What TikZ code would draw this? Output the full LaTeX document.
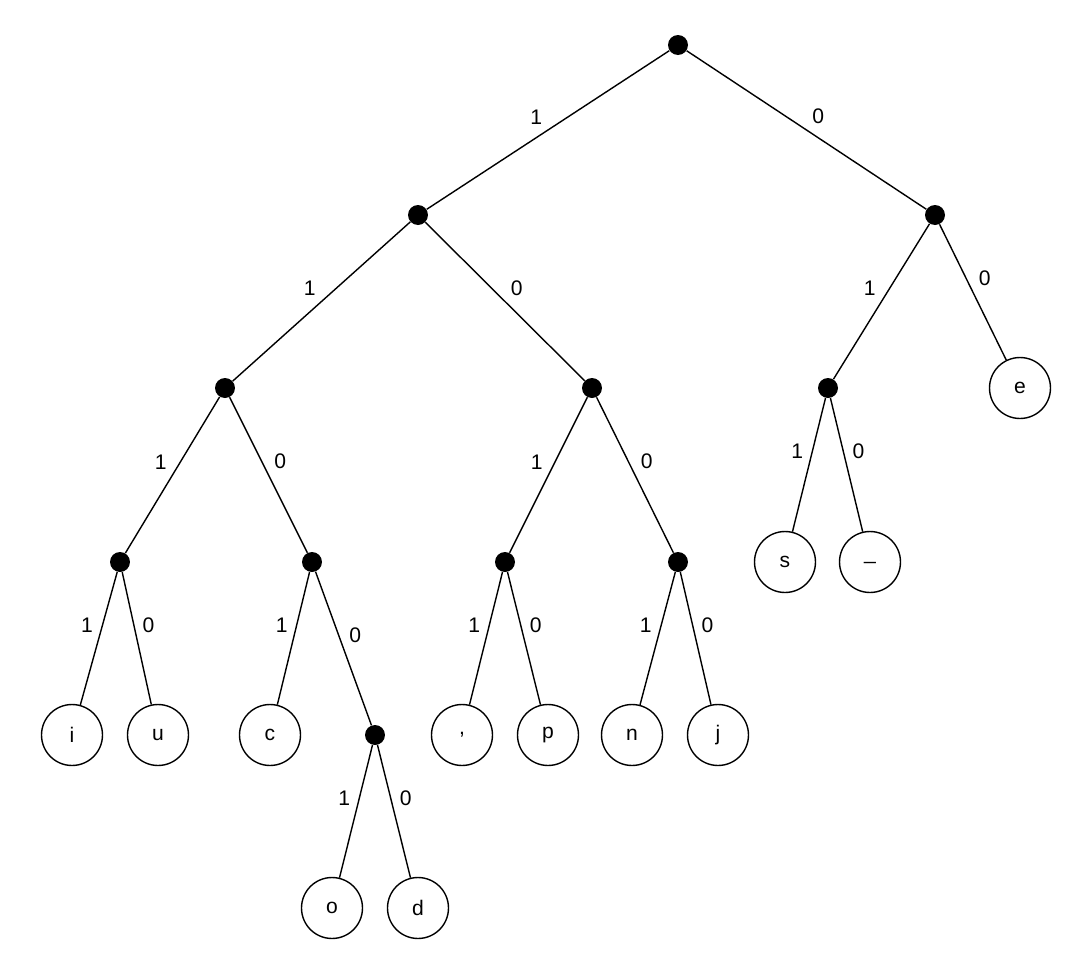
\documentclass[tikz,border=0pt]{standalone}
\usepackage{fontspec}
\setmainfont{Liberation Sans}
\begin{document}
\begin{tikzpicture}[x=0.02cm, y=-0.02cm,
    inner/.style={circle, fill=black, inner sep=0pt, minimum size=0.4cm},
    leaf/.style={circle, draw, thick, inner sep=0pt, minimum size=1.22cm, font=\fontsize{12}{14}\selectfont},
    edge/.style={thick},
    one/.style={midway, above left, inner sep=3pt, font=\fontsize{12}{14}\selectfont},
    zero/.style={midway, above right, inner sep=3pt, font=\fontsize{12}{14}\selectfont}
]
\useasboundingbox (0,0) rectangle (1080,964);

% inner nodes
\node[inner] (root) at (678,45) {};
\node[inner] (n1) at (418,215) {};
\node[inner] (n0) at (935,215) {};
\node[inner] (n11) at (225,388) {};
\node[inner] (n10) at (592,388) {};
\node[inner] (n01) at (828,388) {};
\node[inner] (n111) at (120,562) {};
\node[inner] (n110) at (312,562) {};
\node[inner] (n101) at (505,562) {};
\node[inner] (n100) at (678,562) {};
\node[inner] (n1100) at (375,735) {};

% leaves
\node[leaf] (e) at (1020,388) {e};
\node[leaf] (s) at (785,562) {s};
\node[leaf] (sp) at (870,562) {\_};
\node[leaf] (i) at (72,735) {i};
\node[leaf] (u) at (158,735) {u};
\node[leaf] (c) at (270,735) {c};
\node[leaf] (comma) at (462,735) {,};
\node[leaf] (p) at (548,735) {p};
\node[leaf] (n) at (632,735) {n};
\node[leaf] (j) at (718,735) {j};
\node[leaf] (o) at (332,908) {o};
\node[leaf] (d) at (418,908) {d};

% edges
\draw[edge] (root) -- node[one] {1} (n1);
\draw[edge] (root) -- node[zero] {0} (n0);
\draw[edge] (n1) -- node[one] {1} (n11);
\draw[edge] (n1) -- node[zero] {0} (n10);
\draw[edge] (n0) -- node[one] {1} (n01);
\draw[edge] (n0) -- node[zero] {0} (e);
\draw[edge] (n11) -- node[one] {1} (n111);
\draw[edge] (n11) -- node[zero] {0} (n110);
\draw[edge] (n10) -- node[one] {1} (n101);
\draw[edge] (n10) -- node[zero] {0} (n100);
\draw[edge] (n01) -- node[one] {1} (s);
\draw[edge] (n01) -- node[zero] {0} (sp);
\draw[edge] (n111) -- node[one] {1} (i);
\draw[edge] (n111) -- node[zero] {0} (u);
\draw[edge] (n110) -- node[one] {1} (c);
\draw[edge] (n110) -- node[zero] {0} (n1100);
\draw[edge] (n101) -- node[one] {1} (comma);
\draw[edge] (n101) -- node[zero] {0} (p);
\draw[edge] (n100) -- node[one] {1} (n);
\draw[edge] (n100) -- node[zero] {0} (j);
\draw[edge] (n1100) -- node[one] {1} (o);
\draw[edge] (n1100) -- node[zero] {0} (d);

\end{tikzpicture}
\end{document}
